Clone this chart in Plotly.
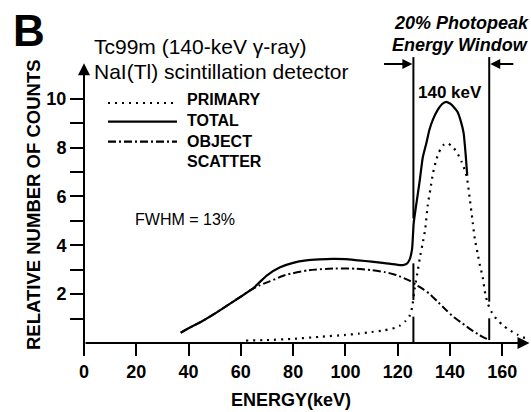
import plotly.graph_objects as go

# ---- spectrum data (keV, relative counts) ----
total_energy = [37, 40, 45, 50, 55, 60, 65, 70, 75, 80, 85, 90, 95, 100, 105, 110, 115, 120,
                122, 123.5, 124.5, 125.5, 126.1, 127, 128.3, 129.6, 131, 132.1, 133.5, 135.3,
                137, 138.5, 140, 141.5, 142.9, 144.2, 145.2, 146.0, 146.6]
total_counts = [0.42, 0.6, 0.88, 1.2, 1.55, 1.9, 2.27, 2.77, 3.1, 3.28, 3.38, 3.42, 3.44, 3.43,
                3.38, 3.33, 3.27, 3.2, 3.19, 3.25, 3.4, 3.85, 4.9, 5.6, 6.55, 7.6, 8.2, 8.72,
                9.15, 9.54, 9.78, 9.87, 9.8, 9.65, 9.45, 9.05, 8.6, 7.7, 6.85]

primary_energy = [62, 70, 80, 90, 100, 105, 110, 115, 119, 121, 123, 124.5, 125.5, 126.5, 127.5,
                  128.5, 129.5, 130.5, 131.5, 132.5, 133.5, 134.5, 135.5, 136.5, 137.5, 138.5,
                  139.5, 140.5, 141.5, 142.5, 143.5, 144.5, 145.5, 146.5, 147.5, 148.5, 149.5,
                  150.5, 151.5, 152.5, 153.5, 154.5, 156, 158, 160, 162, 164, 166, 168, 170]
primary_counts = [0.1, 0.12, 0.17, 0.25, 0.33, 0.38, 0.45, 0.52, 0.62, 0.72, 0.9, 1.1, 1.45, 2.25,
                  2.85, 3.5, 4.05, 4.65, 5.65, 6.3, 6.95, 7.4, 7.75, 7.95, 8.1, 8.17, 8.15, 8.07,
                  7.97, 7.82, 7.63, 7.4, 7.12, 6.75, 5.95, 5.1, 4.25, 3.7, 3.15, 2.7, 2.0, 1.6, 1.25,
                  0.95, 0.75, 0.58, 0.45, 0.33, 0.23, 0.17]

scatter_energy = [37, 40, 45, 50, 55, 60, 63.5, 67, 71, 77, 86, 96, 104, 110, 115, 119.5, 124.5,
                  127, 130, 132, 135, 138.5, 141.5, 144.8, 148, 151.2, 155]
scatter_counts = [0.42, 0.6, 0.88, 1.2, 1.55, 1.9, 2.15, 2.35, 2.52, 2.78, 2.98, 3.05, 3.04, 2.98,
                  2.9, 2.78, 2.55, 2.38, 2.18, 2.03, 1.72, 1.35, 1.05, 0.8, 0.55, 0.33, 0.12]

# 20% photopeak window edges (keV)
window_edges = [126, 155]

x_ticks = [0, 20, 40, 60, 80, 100, 120, 140, 160]
y_ticks = [1, 2, 3, 4, 5, 6, 7, 8, 9, 10]
y_tick_text = ["", "2", "", "4", "", "6", "", "8", "", "10"]

legend_names = ["PRIMARY", "TOTAL", "OBJECT", "SCATTER"]

# ---- page geometry ----
W, H = 531, 412
ML, MR, MT, MB = 84, 1, 51, 69
PW, PH = W - ML - MR, H - MT - MB
X_MAX, Y_MAX = 170.6, 11.95
FONT = "Liberation Sans, Arial, Helvetica, sans-serif"

DOT = "2px,5px"
DASHDOT = "8px,3px,2px,3px"


def px_x(px):
    return (px - ML) / PW


def px_y(py):
    return (H - MB - py) / PH


fig = go.Figure()

fig.add_trace(go.Scatter(x=scatter_energy, y=scatter_counts, mode="lines",
                         line=dict(color="black", width=2, dash=DASHDOT, shape="spline", smoothing=0.6),
                         hoverinfo="skip", showlegend=False))
fig.add_trace(go.Scatter(x=primary_energy, y=primary_counts, mode="lines",
                         line=dict(color="black", width=2.2, dash=DOT, shape="spline", smoothing=0.5),
                         hoverinfo="skip", showlegend=False))
fig.add_trace(go.Scatter(x=total_energy, y=total_counts, mode="lines",
                         line=dict(color="black", width=2.2, shape="spline", smoothing=0.5),
                         hoverinfo="skip", showlegend=False))

# window edge lines, broken where the curves cross them
edge_pieces = {
    window_edges[0]: [(11.7, 5.1), (3.26, 1.76), (1.08, 0.0)],
    window_edges[1]: [(11.7, 1.69), (1.01, 0.12)],
}
for e, pieces in edge_pieces.items():
    for top, bot in pieces:
        fig.add_trace(go.Scatter(x=[e, e], y=[top, bot], mode="lines",
                                 line=dict(color="black", width=2),
                                 hoverinfo="skip", showlegend=False))

annotations = []

# axis lines with arrow heads
annotations.append(dict(x=170.4, y=0, ax=0, ay=0, xref="x", yref="y", axref="x", ayref="y",
                        text="", showarrow=True, arrowhead=2, arrowsize=1.2, arrowwidth=2,
                        arrowcolor="black"))
annotations.append(dict(x=0, y=11.45, ax=0, ay=-0.4, xref="x", yref="y", axref="x", ayref="y",
                        text="", showarrow=True, arrowhead=2, arrowsize=1.2, arrowwidth=2,
                        arrowcolor="black"))

# window arrows
annotations.append(dict(x=window_edges[0] - 0.4, y=11.42, ax=114.2, ay=11.42, xref="x", yref="y",
                        axref="x", ayref="y", text="", showarrow=True, arrowhead=2, arrowsize=1,
                        arrowwidth=2, arrowcolor="black"))
annotations.append(dict(x=window_edges[1] + 0.4, y=11.42, ax=164.8, ay=11.42, xref="x", yref="y",
                        axref="x", ayref="y", text="", showarrow=True, arrowhead=2, arrowsize=1,
                        arrowwidth=2, arrowcolor="black"))


def label(text, px, py, size, xanchor="left", bold=False, italic=False, angle=0, align="left"):
    if bold:
        text = "<b>" + text + "</b>"
    if italic:
        text = "<i>" + text + "</i>"
    annotations.append(dict(text=text, x=px_x(px), y=px_y(py), xref="paper", yref="paper",
                            xanchor=xanchor, yanchor="middle", showarrow=False, textangle=angle,
                            align=align,
                            font=dict(family=FONT, size=size, color="black")))


label("B", 29, 31, 44, xanchor="center", bold=True)
label("Tc99m (140-keV γ-ray)", 92, 46.5, 21)
label("NaI(Tl) scintillation detector", 92, 71, 21)
label("20% Photopeak", 461, 23, 18, xanchor="center", bold=True, italic=True)
label("Energy Window", 460, 45, 18, xanchor="center", bold=True, italic=True)
label("140 keV", 450, 92, 17, xanchor="center", bold=True)
label("FWHM = 13%", 133, 219, 16)
label("RELATIVE NUMBER OF COUNTS", 33, 205, 18.5, xanchor="center", bold=True, angle=-90)
label("ENERGY(keV)", 291, 400, 18, xanchor="center", bold=True)

# legend: sample lines plus one stacked label block
legend_rows = [(103, DOT), (121.7, "solid"), (141.7, DASHDOT)]
shapes = []
for ly, dash in legend_rows:
    shapes.append(dict(type="line", xref="paper", yref="paper", x0=px_x(108), x1=px_x(177),
                       y0=px_y(ly), y1=px_y(ly), line=dict(color="black", width=2.2, dash=dash)))
label("<br>".join(legend_names), 185, 130, 16, bold=True)

fig.update_layout(
    width=W, height=H,
    margin=dict(l=ML, r=MR, t=MT, b=MB, pad=0),
    paper_bgcolor="white", plot_bgcolor="white",
    font=dict(family=FONT, color="black"),
    annotations=annotations,
    shapes=shapes,
    xaxis=dict(range=[0, X_MAX], tickvals=x_ticks, ticks="outside", ticklen=12, tickwidth=2,
               tickcolor="black", showline=False, zeroline=False, showgrid=False,
               tickfont=dict(family=FONT, size=18, color="black", weight="bold")),
    yaxis=dict(range=[0, Y_MAX], tickvals=y_ticks, ticktext=y_tick_text, ticks="outside",
               ticklen=13, tickwidth=2, tickcolor="black", showline=False, zeroline=False,
               showgrid=False,
               tickfont=dict(family=FONT, size=18, color="black", weight="bold")),
)

fig.write_html("out.html")
